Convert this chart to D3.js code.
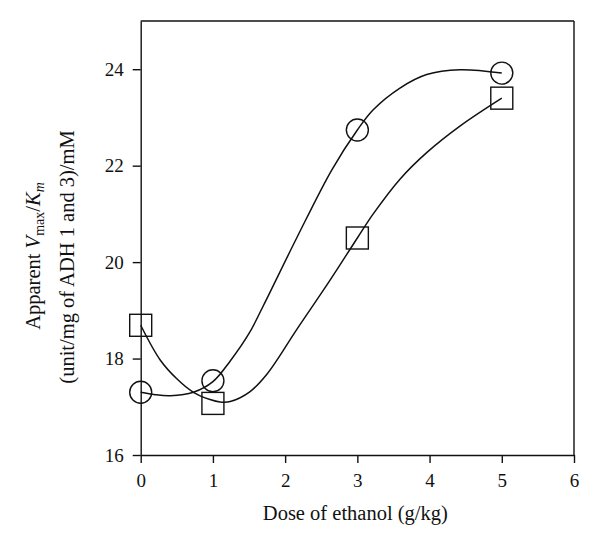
<!DOCTYPE html>
<html>
<head>
<meta charset="utf-8">
<script src="https://cdn.jsdelivr.net/npm/d3@7"></script>
<style>
  html, body { margin: 0; padding: 0; background: #fff; }
  svg { display: block; }
  text { font-family: "Liberation Serif", "Times New Roman", serif; fill: #111; }
</style>
</head>
<body>
<svg id="chart" width="600" height="543"></svg>
<script>
// ---- data ----
const doses = [0, 1, 3, 5];
const circleValues = [17.3, 17.54, 22.74, 23.92];
const squareValues = [18.69, 17.07, 20.5, 23.4];

// fitted curves
const circleFitX = [0, 0.2, 0.41, 0.73, 1.0, 1.24, 1.5, 1.7, 2.16, 2.645, 3.0, 3.22, 3.59, 3.96, 4.42, 5.0];
const circleFitY = [17.3, 17.25, 17.23, 17.3, 17.52, 17.95, 18.52, 19.1, 20.5, 21.91, 22.74, 23.16, 23.61, 23.89, 23.99, 23.92];
const squareFitX = [0, 0.27, 0.5, 0.73, 0.96, 1.1, 1.24, 1.51, 1.75, 2.16, 2.62, 3.0, 3.22, 3.59, 3.96, 4.42, 5.0];
const squareFitY = [18.69, 17.97, 17.58, 17.3, 17.15, 17.1, 17.11, 17.31, 17.68, 18.6, 19.62, 20.5, 21.0, 21.72, 22.27, 22.82, 23.4];

const xTicks = [0, 1, 2, 3, 4, 5, 6];
const yTicks = [16, 18, 20, 22, 24];

// ---- layout ----
const svg = d3.select("#chart");
const plotLeft = 140.7, plotRight = 574, plotTop = 21, plotBottom = 455;

const x = d3.scaleLinear().domain([0, 6]).range([plotLeft, plotRight]);
const y = d3.scaleLinear().domain([16, 25]).range([plotBottom, plotTop]);

const stroke = "#111";
const sw = 1.4;

// box (top and right lines)
svg.append("line").attr("x1", plotLeft).attr("x2", plotRight).attr("y1", plotTop).attr("y2", plotTop)
  .attr("stroke", stroke).attr("stroke-width", sw);
svg.append("line").attr("x1", plotRight).attr("x2", plotRight).attr("y1", plotTop).attr("y2", plotBottom)
  .attr("stroke", stroke).attr("stroke-width", sw);

// axes
const xAxis = d3.axisBottom(x).tickValues(xTicks).tickFormat(d3.format("d"))
  .tickSizeInner(8).tickSizeOuter(0).tickPadding(11);
const yAxis = d3.axisLeft(y).tickValues(yTicks).tickFormat(d3.format("d"))
  .tickSizeInner(8).tickSizeOuter(0).tickPadding(9);

const gx = svg.append("g").attr("transform", `translate(0,${plotBottom})`).call(xAxis);
const gy = svg.append("g").attr("transform", `translate(${plotLeft},0)`).call(yAxis);
[gx, gy].forEach(g => {
  g.select(".domain").attr("stroke", stroke).attr("stroke-width", sw);
  g.selectAll(".tick line").attr("stroke", stroke).attr("stroke-width", sw);
  g.selectAll(".tick text").attr("font-family", "Liberation Serif, serif")
    .attr("font-size", 19).attr("fill", "#111");
});

// curves
const line = d3.line().x(d => x(d[0])).y(d => y(d[1])).curve(d3.curveCatmullRom.alpha(0.5));
const circleFit = circleFitX.map((v, i) => [v, circleFitY[i]]);
const squareFit = squareFitX.map((v, i) => [v, squareFitY[i]]);

svg.append("path").datum(circleFit).attr("d", line)
  .attr("fill", "none").attr("stroke", stroke).attr("stroke-width", 1.5);
svg.append("path").datum(squareFit).attr("d", line)
  .attr("fill", "none").attr("stroke", stroke).attr("stroke-width", 1.5);

// markers
svg.append("g").selectAll("circle").data(doses).join("circle")
  .attr("cx", (d) => x(d)).attr("cy", (d, i) => y(circleValues[i])).attr("r", 11)
  .attr("fill", "none").attr("stroke", stroke).attr("stroke-width", 1.4);

const half = 11;
svg.append("g").selectAll("rect").data(doses).join("rect")
  .attr("x", d => x(d) - half).attr("y", (d, i) => y(squareValues[i]) - half)
  .attr("width", half * 2).attr("height", half * 2)
  .attr("fill", "none").attr("stroke", stroke).attr("stroke-width", 1.4);

// axis titles
svg.append("text").attr("x", (plotLeft + plotRight) / 2 - 2).attr("y", 520)
  .attr("text-anchor", "middle").attr("font-size", 20.5)
  .text("Dose of ethanol (g/kg)");

const t1 = svg.append("text").attr("transform", "translate(40,256) rotate(-90)")
  .attr("text-anchor", "middle").attr("font-size", 20.5);
t1.append("tspan").text("Apparent ");
t1.append("tspan").attr("font-style", "italic").text("V");
t1.append("tspan").attr("font-size", 14).attr("dy", 4).text("max");
t1.append("tspan").attr("dy", -4).text("/");
t1.append("tspan").attr("font-style", "italic").text("K");
t1.append("tspan").attr("font-size", 14).attr("font-style", "italic").attr("dy", 4).text("m");

svg.append("text").attr("transform", "translate(74,257) rotate(-90)")
  .attr("text-anchor", "middle").attr("font-size", 20.5)
  .text("(unit/mg of ADH 1 and 3)/mM");
</script>
</body>
</html>
